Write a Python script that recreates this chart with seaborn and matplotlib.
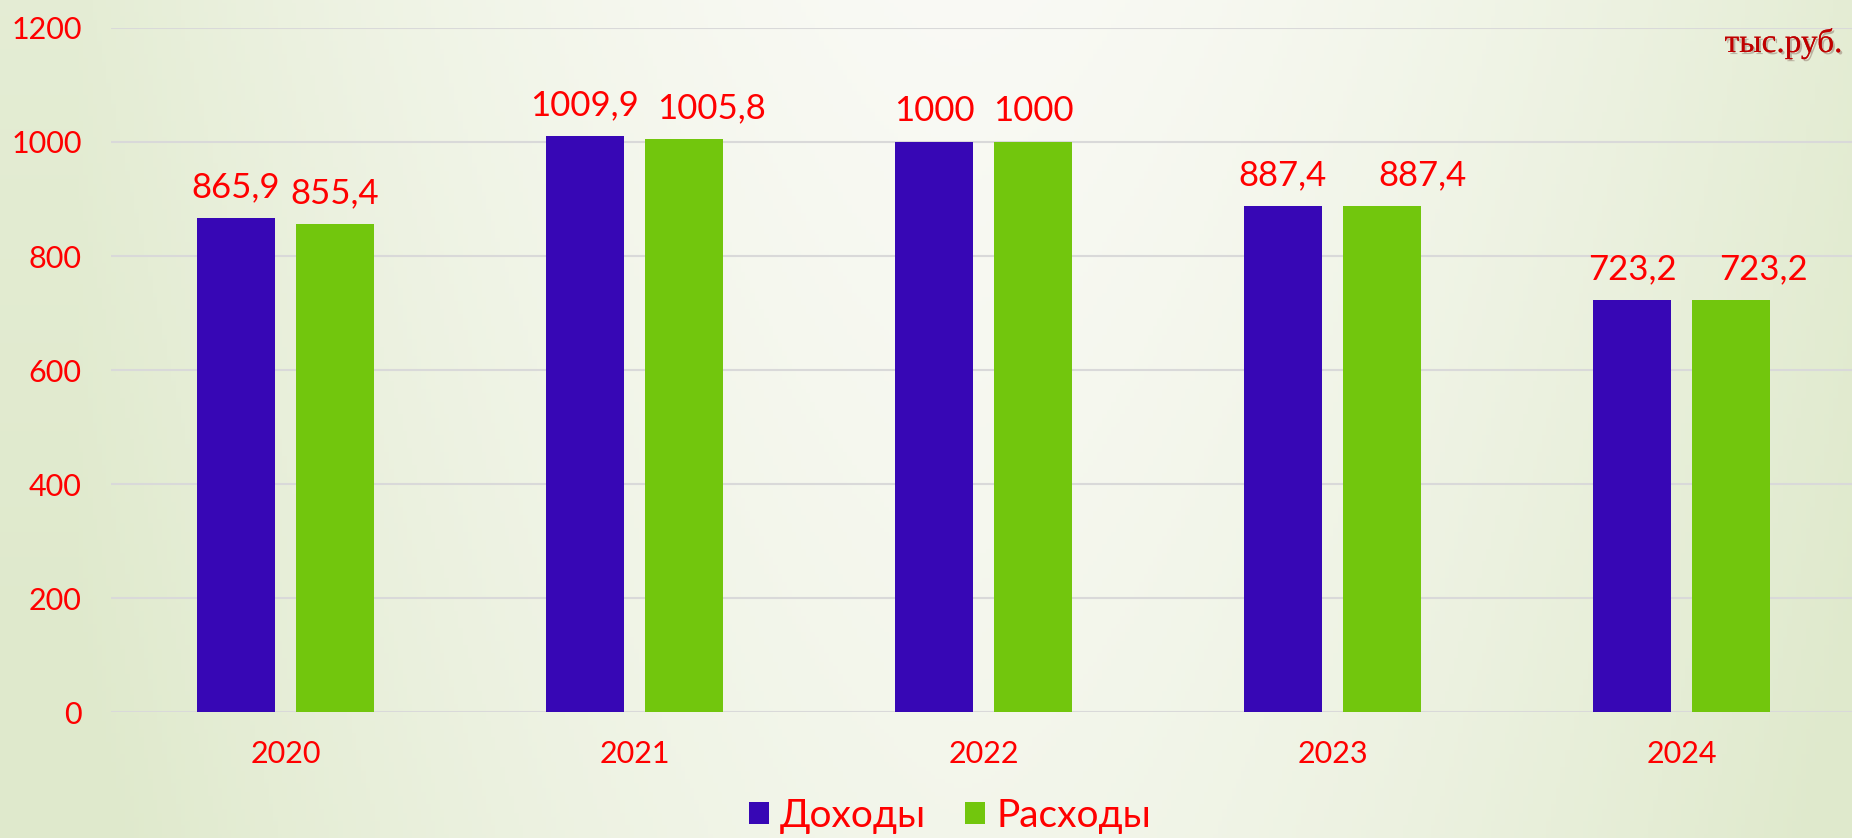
import numpy as np
import pandas as pd
import matplotlib
matplotlib.use("Agg")
import matplotlib.pyplot as plt
import matplotlib.patheffects as pe
from matplotlib.patches import Patch
import seaborn as sns

# -------------------------------
# DATOS

years = ["2020", "2021", "2022", "2023", "2024"]
dohody = [865.9, 1009.9, 1000, 887.4, 723.2]
rashody = [855.4, 1005.8, 1000, 887.4, 723.2]
series = ["Доходы", "Расходы"]
colors = ["#3707B5", "#72C60D"]
y_ticks = [0, 200, 400, 600, 800, 1000, 1200]
unit_label = "тыс.руб."

# desplazamiento horizontal de las etiquetas (pt), como en el original
label_nudge = [[0, 0, 0, 0, 0],
               [0, 20, 0, 29, 23]]

df = pd.DataFrame({
    "год": years * 2,
    "значение": dohody + rashody,
    "показатель": [series[0]] * len(years) + [series[1]] * len(years),
})

RED = "#FF0000"
FONT = ["Lato", "DejaVu Sans"]

# -------------------------------
# FIGURA

sns.set_style("white")
plt.rcParams["font.family"] = FONT

fig = plt.figure(figsize=(18.52, 8.38), dpi=100)

# fondo con degradado verde claro
bg = fig.add_axes([0, 0, 1, 1], zorder=-10)
xx = np.linspace(0, 1, 400)
yy = np.linspace(0, 1, 200)
X, Y = np.meshgrid(xx, yy)
light = np.array([0.978, 0.980, 0.960])
green = np.array([0.875, 0.915, 0.80])
t = np.clip(np.abs(X - 0.52) / 0.48, 0, 1) ** 1.6 * 0.8 + Y * 0.25
t = np.clip(t, 0, 1)
img = light[None, None, :] * (1 - t[..., None]) + green[None, None, :] * t[..., None]
bg.imshow(img, aspect="auto", extent=[0, 1, 0, 1], origin="upper")
bg.axis("off")

ax = fig.add_axes([111 / 1852, 1 - 712 / 838, 1745 / 1852, 684 / 838])
ax.patch.set_alpha(0)

sns.barplot(data=df, x="год", y="значение", hue="показатель", palette=colors,
            saturation=1, width=0.568, gap=0.213, linewidth=0, ax=ax, legend=False)

for i, cont in enumerate(ax.containers):
    for j, (bar, v) in enumerate(zip(cont.patches, cont.datavalues)):
        txt = f"{v:g}".replace(".", ",")
        ax.annotate(txt, (bar.get_x() + bar.get_width() / 2, bar.get_height()),
                    xytext=(label_nudge[i][j], 15), textcoords="offset points",
                    ha="center", va="baseline", color=RED, fontsize=25)

ax.set_xlim(-0.5, 4.5)
ax.set_ylim(0, 1200)
ax.set_yticks(y_ticks)
ax.yaxis.grid(True, color="#D9D9D9", linewidth=1.5)
ax.set_axisbelow(True)
for s in ax.spines.values():
    s.set_visible(False)
ax.tick_params(axis="y", length=0, pad=21, labelsize=22, labelcolor=RED)
ax.tick_params(axis="x", length=0, pad=20, labelsize=22, labelcolor=RED)
ax.set_xlabel("")
ax.set_ylabel("")

fig.text(0.995, 1 - 52 / 838, unit_label, ha="right", va="baseline",
         family="Liberation Serif", fontsize=24, color="#C00000",
         path_effects=[pe.withSimplePatchShadow(offset=(1.5, -1.5), alpha=0.25), pe.Normal()])

handles = [Patch(facecolor=c, edgecolor="none") for c in colors]
leg = fig.legend(handles, series, loc="center", bbox_to_anchor=(0.513, 0.026),
                 ncol=2, frameon=False, fontsize=28, handlelength=0.5, handleheight=0.5,
                 handletextpad=0.3, columnspacing=1.0, borderaxespad=0)
for txt in leg.get_texts():
    txt.set_color(RED)

fig.savefig("out.png", dpi=100)
